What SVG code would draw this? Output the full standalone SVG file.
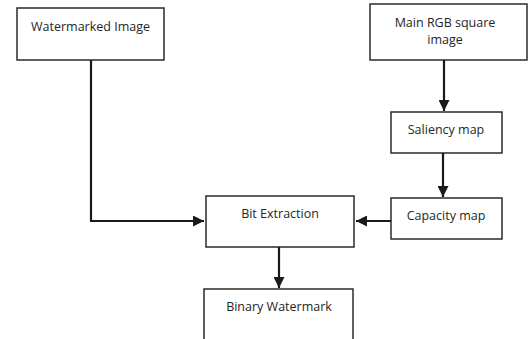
<svg xmlns="http://www.w3.org/2000/svg" width="532" height="339" viewBox="0 0 532 339">
  <defs>
    <marker id="arrow" viewBox="0 0 10 10" refX="10" refY="5" markerWidth="5" markerHeight="5" orient="auto" markerUnits="strokeWidth">
      <path d="M0,0 L10,5 L0,10 Z" fill="#1a1a1a"/>
    </marker>
  </defs>
  <style>
    .box { fill: #ffffff; stroke: #2a2a2a; stroke-width: 1.5; }
    .label { font-family: "Open Sans", "Liberation Sans", sans-serif; font-size: 12.5px; fill: #262626; text-anchor: middle; }
    .wire { fill: none; stroke: #1a1a1a; stroke-width: 2.2; marker-end: url(#arrow); }
  </style>
  <rect width="532" height="339" fill="#ffffff"/>

  <g id="watermarked-image">
    <rect class="box" x="17" y="8" width="147" height="52"/>
    <text class="label" x="90.5" y="31">Watermarked Image</text>
  </g>

  <g id="main-rgb-image">
    <rect class="box" x="370" y="4" width="157" height="56"/>
    <text class="label" x="445" y="26.5">Main RGB square</text>
    <text class="label" x="445" y="43.5">image</text>
  </g>

  <g id="saliency-map">
    <rect class="box" x="391" y="112" width="111" height="41"/>
    <text class="label" x="446" y="134">Saliency map</text>
  </g>

  <g id="capacity-map">
    <rect class="box" x="391" y="198" width="111" height="41"/>
    <text class="label" x="446" y="220">Capacity map</text>
  </g>

  <g id="bit-extraction">
    <rect class="box" x="206" y="196" width="148" height="51"/>
    <text class="label" x="280" y="218">Bit Extraction</text>
  </g>

  <g id="binary-watermark">
    <rect class="box" x="204" y="289" width="149" height="60"/>
    <text class="label" x="279" y="311">Binary Watermark</text>
  </g>

  <g id="connectors">
    <path class="wire" d="M91,60 V221 H204"/>
    <path class="wire" d="M444,60 V111"/>
    <path class="wire" d="M443,153 V197"/>
    <path class="wire" d="M391,221 H356"/>
    <path class="wire" d="M279,247 V288"/>
  </g>
</svg>
